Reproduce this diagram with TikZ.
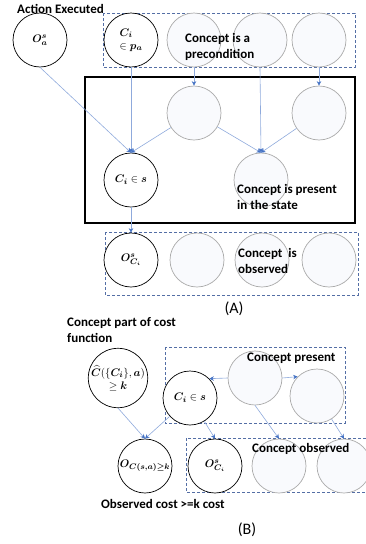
\documentclass[tikz,border=0pt]{standalone}
\usepackage{amsmath}
\usepackage{amssymb}
\usepackage{bm}
\usepackage{fontspec}
\setsansfont{Carlito}
\usetikzlibrary{arrows.meta}
\definecolor{linkline}{RGB}{143,170,220}
\definecolor{linktip}{RGB}{68,114,196}
\definecolor{ringgray}{RGB}{170,170,170}
\definecolor{ringfill}{RGB}{249,250,253}
\definecolor{boxdash}{RGB}{84,110,165}

\begin{document}
\begin{tikzpicture}[x=1pt,y=-1pt]
\tikzset{every node/.style={inner sep=0pt}}
\tikzset{blackc/.style={circle, draw=black, line width=0.7pt, fill=white, minimum size=54pt, font=\fontsize{11}{13}\selectfont, align=center}}
\tikzset{grayc/.style={circle, draw=ringgray, line width=0.7pt, fill=ringfill, minimum size=54pt}}
\tikzset{lbl/.style={anchor=west, align=left, font=\sffamily\bfseries\fontsize{13}{15.5}\selectfont}}
\tikzset{caption/.style={font=\sffamily\fontsize{16}{18}\selectfont}}
\tikzset{dbox/.style={draw=boxdash, line width=0.8pt, dash pattern=on 3pt off 2pt}}
\tikzset{arr/.style={draw=linkline, line width=0.6pt, -{Stealth[length=4.5pt, width=4.5pt, color=linktip]}}}
\clip (0,0) rectangle (366,544);

% (A)
\draw[dbox] (103,13) rectangle (355,67);
\draw[dbox] (105,232) rectangle (358,295);
\node[blackc] (oa) at (40,40) {$\bm{O_a^s}$};
\node[blackc, align=left] (cipa) at (131,40) {$\bm{C_i}$\\$\in\bm{p_a}$};
\node[grayc] (pre1) at (194,40) {};
\node[grayc] (pre2) at (260,40) {};
\node[grayc] (pre3) at (319,40) {};
\node[grayc] (mid1) at (194,113) {};
\node[grayc] (mid2) at (319,113) {};
\node[blackc] (cis) at (131,180) {$\bm{C_i}\in\bm{s}$};
\node[grayc] (pres) at (261,180) {};
\node[blackc] (ocis) at (131,260) {$\bm{O_{C_i}^s}$};
\node[grayc] (obs1) at (197,260) {};
\node[grayc] (obs2) at (262,260) {};
\node[grayc] (obs3) at (329,260) {};
\draw[line width=1.6pt] (85,77) rectangle (355,223);
\draw[arr] (oa.south) -- (cis.north);
\draw[arr] (cipa.south) -- (cis.north);
\draw[arr] (mid1) -- (cis.north);
\draw[arr] (pre1.south) -- (mid1.north);
\draw[arr] (pre2.south) -- (pres.north);
\draw[arr] (pre3.south) -- (mid2.north);
\draw[arr] (mid1) -- (pres.north);
\draw[arr] (mid2) -- (pres.north);
\draw[arr] (cis.south) -- (ocis.north);
\node[lbl] (acttxt) at (17,9) {Action Executed};
\node[lbl] (pretxt) at (185,47) {Concept is a\\precondition};
\node[lbl] (prestxt) at (237,197) {Concept is present\\in the state};
\node[lbl] (obstxt) at (238,261) {Concept\ \ is\\observed};
\node[caption] (capa) at (234,309) {(A)};

% (B)
\draw[dbox] (165,347) rectangle (345,423);
\draw[dbox] (186,438) rectangle (372,492);
\node[blackc] (chat) at (118,378) {$\widehat{\bm{C}}(\{\bm{C_i}\},\bm{a})$\\$\geq\bm{k}$};
\node[blackc] (cis2) at (190,398) {$\bm{C_i}\in\bm{s}$};
\node[grayc] (pres2) at (255,378) {};
\node[grayc] (pres3) at (317,396) {};
\node[blackc] (ocost) at (145,466) {$\bm{O_{C(s,a)\geq k}}$};
\node[blackc] (ocis2) at (215,466) {$\bm{O_{C_i}^s}$};
\node[grayc] (obsb1) at (279,466) {};
\node[grayc] (obsb2) at (344,466) {};
\draw[arr] (chat.south) -- (ocost.north);
\draw[arr] (cis2) -- (ocost.north);
\draw[arr] (cis2) -- (ocis2.north);
\draw[arr] (pres2.west) -- (cis2.45);
\draw[arr] (pres2.east) -- (pres3.135);
\draw[arr] (pres2.south) -- (obsb1.north);
\draw[arr] (pres3) -- (obsb2.north);
\node[lbl] (costtxt) at (67,330) {Concept part of cost\\function};
\node[lbl] (presbtxt) at (247,358) {Concept present};
\node[lbl] (obsbtxt) at (252,449) {Concept observed};
\node[lbl] (octxt) at (101,504) {Observed cost >=k cost};
\node[caption] (capb) at (247,530) {(B)};
\end{tikzpicture}
\end{document}
